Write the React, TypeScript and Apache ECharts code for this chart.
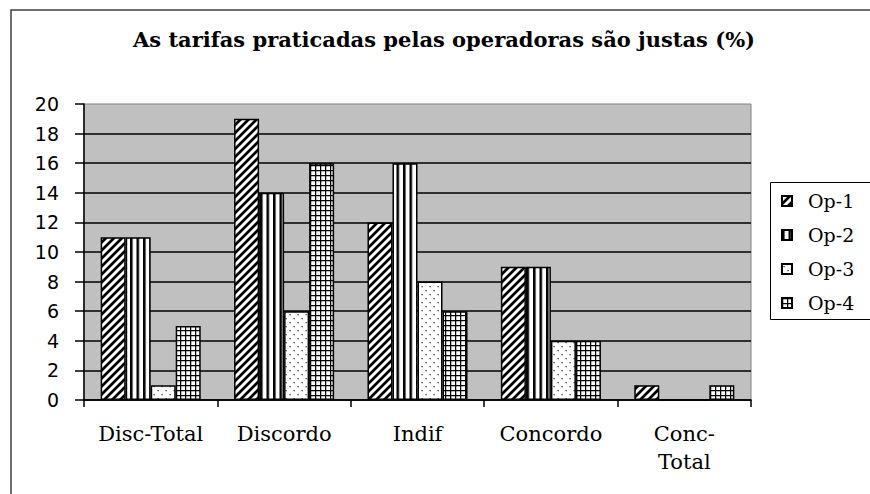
import React, { useEffect, useRef } from "react";
import * as echarts from "echarts";

const categories = ["Disc-Total", "Discordo", "Indif", "Concordo", "Conc-\nTotal"];
const seriesNames = ["Op-1", "Op-2", "Op-3", "Op-4"];
const op1Values = [11, 19, 12, 9, 1];
const op2Values = [11, 14, 16, 9, 0];
const op3Values = [1, 6, 8, 4, 0];
const op4Values = [5, 16, 6, 4, 1];
const yMin = 0;
const yMax = 20;
const yInterval = 2;
const titleText = "As tarifas praticadas pelas operadoras são justas (%)";

type Kind = "diag" | "vert" | "dots" | "grid";

function makePattern(kind: Kind) {
  const S = 4;
  const c = document.createElement("canvas");
  let w = 8;
  let h = 8;
  if (kind === "vert") { w = 6.5; h = 2; }
  if (kind === "grid") { w = 5; h = 5; }
  c.width = Math.round(w * S);
  c.height = Math.round(h * S);
  const ctx = c.getContext("2d")!;
  ctx.fillStyle = "#ffffff";
  ctx.fillRect(0, 0, c.width, c.height);
  ctx.fillStyle = "#000000";
  ctx.strokeStyle = "#000000";
  if (kind === "diag") {
    const W = c.width;
    ctx.lineWidth = 11;
    ctx.lineCap = "square";
    for (const off of [-W, 0, W]) {
      ctx.beginPath();
      ctx.moveTo(off - 4, W + 4);
      ctx.lineTo(off + W + 4, -4);
      ctx.stroke();
    }
  } else if (kind === "vert") {
    ctx.fillRect(0, 0, 10, c.height);
  } else if (kind === "dots") {
    ctx.fillStyle = "#333333";
    ctx.fillRect(6, 8, 5, 5);
    ctx.fillRect(22, 24, 5, 5);
  } else if (kind === "grid") {
    ctx.fillRect(0, 0, c.width, 5);
    ctx.fillRect(0, 0, 5, c.height);
  }
  return {
    image: c.toDataURL(),
    repeat: "repeat",
    imageWidth: w,
    imageHeight: h,
  };
}

export default function App() {
  const ref = useRef<HTMLDivElement>(null);
  useEffect(() => {
    if (!ref.current) return;
    const chart = echarts.init(ref.current, null, { renderer: "svg" });
    const kinds: Kind[] = ["diag", "vert", "dots", "grid"];
    const values = [op1Values, op2Values, op3Values, op4Values];
    const series = seriesNames.map((name, i) => ({
      name,
      type: "bar",
      data: values[i],
      barGap: "0%",
      barCategoryGap: "25%",
      itemStyle: {
        color: makePattern(kinds[i]),
        borderColor: "#000000",
        borderWidth: 1.5,
      },
    }));
    chart.setOption({
      animation: false,
      backgroundColor: "#ffffff",
      title: {
        text: titleText,
        left: 444,
        top: 29,
        textAlign: "center",
        padding: 0,
        textStyle: {
          fontFamily: "DejaVu Serif",
          fontWeight: "bold",
          fontSize: 21,
          color: "#000000",
        },
      },
      graphic: [
        {
          type: "rect",
          shape: { x: 11, y: 10, width: 1000, height: 700 },
          style: { fill: "none", stroke: "#404040", lineWidth: 1.5 },
          silent: true,
        },
        {
          type: "rect",
          shape: { x: 770.5, y: 182.5, width: 200, height: 137 },
          style: { fill: "#ffffff", stroke: "#000000", lineWidth: 1 },
          silent: true,
          z: -1,
        },
      ],
      legend: {
        orient: "vertical",
        left: 770,
        top: 182,
        itemWidth: 10,
        itemHeight: 10,
        itemGap: 14,
        icon: "rect",
        borderWidth: 0,
        padding: [9, 0, 6, 11],
        textStyle: {
          fontFamily: "DejaVu Serif",
          fontSize: 19,
          lineHeight: 20,
          color: "#000000",
          padding: [0, 0, 0, 11],
        },
        data: seriesNames,
      },
      grid: {
        left: 84,
        top: 104,
        right: 119,
        bottom: 94,
        show: true,
        backgroundColor: "#c0c0c0",
        borderColor: "#808080",
        borderWidth: 1,
      },
      xAxis: {
        type: "category",
        data: categories,
        axisLine: { show: true, lineStyle: { color: "#000000", width: 1.5 } },
        axisTick: { show: true, length: 7, lineStyle: { color: "#000000", width: 1.5 } },
        axisLabel: {
          interval: 0,
          margin: 20,
          fontFamily: "DejaVu Serif",
          fontSize: 21,
          lineHeight: 28,
          color: "#000000",
        },
      },
      yAxis: {
        type: "value",
        min: yMin,
        max: yMax,
        interval: yInterval,
        axisLine: { show: true, lineStyle: { color: "#000000", width: 1.5 } },
        axisTick: { show: true, length: 9, lineStyle: { color: "#000000", width: 1.5 } },
        axisLabel: {
          margin: 25,
          fontFamily: "DejaVu Sans",
          fontSize: 19,
          color: "#000000",
        },
        splitLine: {
          show: true,
          showMaxLine: false,
          lineStyle: { color: "#000000", width: 1.5 },
        },
      },
      series,
    });
    return () => chart.dispose();
  }, []);
  return (
    <div
      ref={ref}
      style={{ position: "absolute", left: 0, top: 0, width: 870, height: 494 }}
    />
  );
}
